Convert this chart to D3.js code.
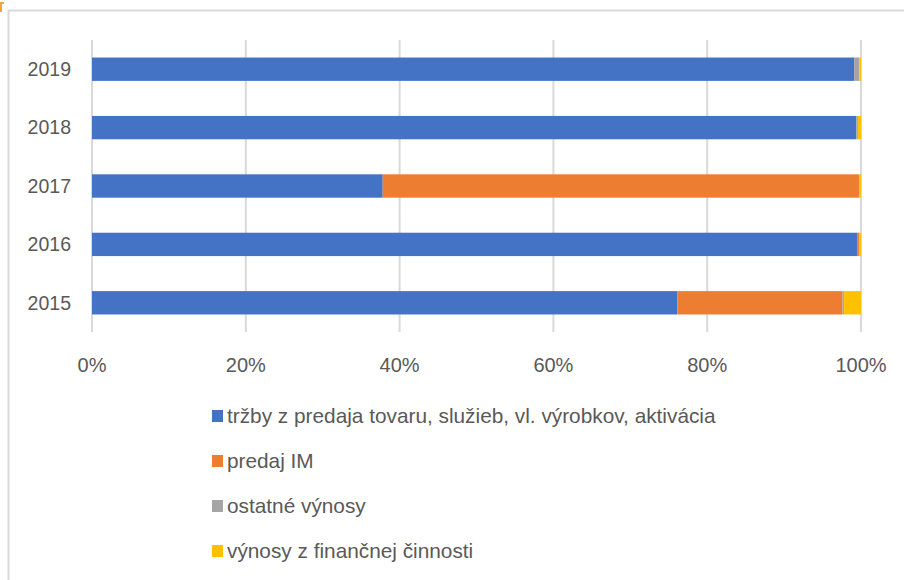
<!DOCTYPE html>
<html>
<head>
<meta charset="utf-8">
<script src="https://cdn.jsdelivr.net/npm/d3@7"></script>
<style>
  body { margin: 0; background: #fff; }
  svg text { font-family: "Liberation Sans", "DejaVu Sans", sans-serif; fill: #595959; }
</style>
</head>
<body>
<div class="chart"></div>
<script>
/* data (shares in %) */
const years = ["2019", "2018", "2017", "2016", "2015"];
const seriesNames = [
    "tržby z predaja tovaru, služieb, vl. výrobkov, aktivácia",
    "predaj IM",
    "ostatné výnosy",
    "výnosy z finančnej činnosti"
];
const trzby    = [99.1, 99.4, 37.8, 99.5, 76.1];
const predajIM = [0.0, 0.0, 62.0, 0.3, 21.5];
const ostatne  = [0.7, 0.2, 0.0, 0.0, 0.2];
const financne = [0.2, 0.4, 0.2, 0.2, 2.2];
const tickLabels = ["0%", "20%", "40%", "60%", "80%", "100%"];
const colors = ["#4472c4", "#ed7d31", "#a5a5a5", "#ffc000"];

const width = 904, height = 580;
const plotLeft = 92, plotRight = 861, plotTop = 40, plotBottom = 332;

const svg = d3.select(".chart").append("svg")
    .attr("width", width)
    .attr("height", height);

// chart border (only left & top visible in the screenshot)
svg.append("rect")
    .attr("x", 8.5).attr("y", 10.5)
    .attr("width", 920).attr("height", 600)
    .attr("fill", "none")
    .attr("stroke", "#d9d9d9")
    .attr("stroke-width", 2);

// little selection mark in the corner
svg.append("path")
    .attr("d", "M0,2 L4,2 L4,4 L2,4 L2,12 L0,12 Z")
    .attr("fill", "#f4a23a");

const x = d3.scaleLinear().domain([0, 100]).range([plotLeft, plotRight]);
const y = d3.scaleBand().domain(years).range([plotTop, plotBottom]).paddingInner(0.6).paddingOuter(0.3);

// vertical gridlines
svg.append("g")
    .selectAll("line")
    .data(x.ticks(5))
    .enter()
    .append("line")
    .attr("x1", d => x(d)).attr("x2", d => x(d))
    .attr("y1", plotTop).attr("y2", plotBottom)
    .attr("stroke", "#d9d9d9")
    .attr("stroke-width", 2);

// stack the series
const rows = years.map((yr, i) => ({
    year: yr, s0: trzby[i], s1: predajIM[i], s2: ostatne[i], s3: financne[i]
}));
const stacked = d3.stack().keys(["s0", "s1", "s2", "s3"])(rows);

svg.append("g")
    .selectAll("g")
    .data(stacked)
    .enter()
    .append("g")
    .attr("fill", (d, i) => colors[i])
    .selectAll("rect")
    .data(d => d)
    .enter()
    .append("rect")
    .attr("x", d => x(d[0]))
    .attr("width", d => Math.max(0, x(d[1]) - x(d[0])))
    .attr("y", d => y(d.data.year))
    .attr("height", y.bandwidth());

// category labels
svg.append("g")
    .selectAll("text")
    .data(years)
    .enter()
    .append("text")
    .attr("x", 71)
    .attr("y", d => y(d) + y.bandwidth() / 2)
    .attr("dy", "0.35em")
    .attr("text-anchor", "end")
    .attr("font-size", 19.5)
    .text(d => d);

// x tick labels
svg.append("g")
    .selectAll("text")
    .data(x.ticks(5))
    .enter()
    .append("text")
    .attr("x", d => x(d))
    .attr("y", 372)
    .attr("text-anchor", "middle")
    .attr("font-size", 20)
    .text((d, i) => tickLabels[i]);

// legend
const legend = svg.append("g")
    .selectAll("g")
    .data(seriesNames)
    .enter()
    .append("g")
    .attr("transform", (d, i) => `translate(212, ${416 + i * 45})`);

legend.append("rect")
    .attr("x", 0).attr("y", -6)
    .attr("width", 11).attr("height", 12)
    .attr("fill", (d, i) => colors[i]);

legend.append("text")
    .attr("x", 15)
    .attr("y", 0)
    .attr("dy", "0.35em")
    .attr("font-size", 20.8)
    .text(d => d);
</script>
</body>
</html>
